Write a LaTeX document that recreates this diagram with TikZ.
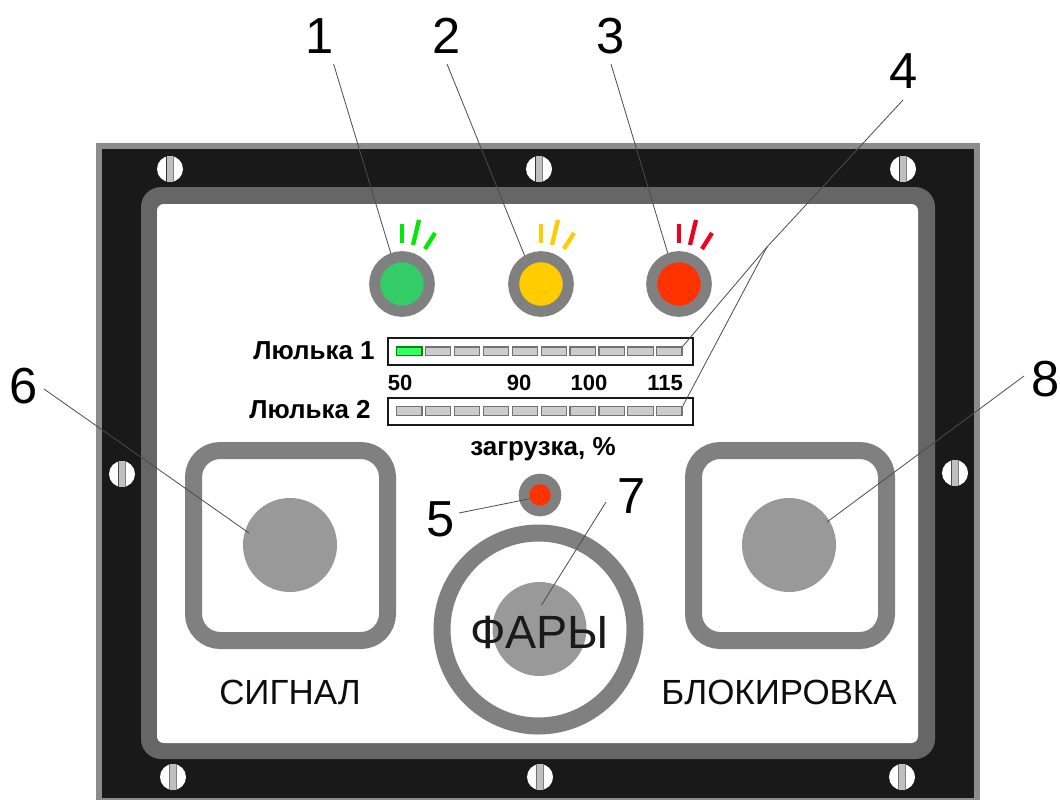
\documentclass[tikz,border=0pt]{standalone}
\usepackage{fontspec}
\setmainfont{Liberation Sans}
\newcommand{\fs}[1]{\fontsize{#1}{#1}\selectfont}
\definecolor{ledgreen}{RGB}{51,204,102}
\definecolor{ledyellow}{RGB}{255,204,0}
\definecolor{ledred}{RGB}{255,51,0}
\definecolor{raygreen}{RGB}{0,235,0}
\definecolor{rayred}{RGB}{240,0,30}
\definecolor{seggreen}{RGB}{51,255,102}
\begin{document}
\begin{tikzpicture}[x=0.75pt,y=-0.75pt,
  callout/.style={inner sep=0pt,minimum width=30pt,minimum height=40pt,font=\fs{38}},
  leader/.style={draw=black!70,line width=0.6pt},
  ledbody/.style={circle,inner sep=0pt,draw=black!50,fill=#1,line width=8.25pt,minimum size=41pt},
  ray/.style={line width=3.2pt,draw=#1},
  seg/.style={draw=black!55,fill=black!20,line width=0.9pt,minimum width=19pt,minimum height=6.2pt,inner sep=0pt},
  barbox/.style={draw=black!90,fill=white,line width=1.2pt,minimum width=228.75pt,minimum height=20.25pt,inner sep=0pt},
  boldlabel/.style={font=\bfseries\fs{19.5},inner sep=0pt},
  scalelabel/.style={font=\bfseries\fs{16.5},inner sep=0pt},
  paneltext/.style={font=\fs{26.2},inner sep=0pt,text=black!95},
  btnframe/.style={draw=black!50,line width=12.75pt,rounded corners=20pt},
  btn/.style={circle,fill=black!40,inner sep=0pt,minimum size=70.5pt},
  screwhead/.style={circle,fill=white,inner sep=0pt,minimum size=19.5pt}]
\useasboundingbox (0,0) rectangle (1060,800);
\fill[white] (0,0) rectangle (1060,800);
% housing
\fill[black!45] (96,143) rectangle (980,800);
\fill[black!90] (102,149) rectangle (974,798);
\fill[black!60,rounded corners=15pt] (141,187) rectangle (935,759);
\fill[white,rounded corners=5pt] (157,204) rectangle (918,743);
% screws
\foreach \n/\x/\y/\e in {a/170/169/80,b/539/169/80,c/903/169/80,d/122/474/70,e/955/473/70,f/173/777/55,g/540/777/55,h/902/777/55}{
  \node[screwhead] (screw\n) at (\x,\y) {};
  \fill[black!25] ([xshift=-2.4pt]screw\n.south) rectangle ([xshift=2.4pt]screw\n.north);
  \draw[black!\e,line width=0.7pt] ([xshift=-2.4pt]screw\n.south) -- ([xshift=-2.4pt]screw\n.north);
  \draw[black!50,line width=0.5pt] ([xshift=2.4pt]screw\n.south) -- ([xshift=2.4pt]screw\n.north);
}
% LEDs
\node[ledbody=ledgreen] (led1) at (402,284) {};
\node[ledbody=ledyellow] (led2) at (541,284) {};
\node[ledbody=ledred] (led3) at (679,284) {};
\foreach \x/\c in {402/raygreen,541/ledyellow,679/rayred}{
  \draw[ray=\c] (\x,224) -- (\x,243);
  \draw[ray=\c] (\x+17,220) -- (\x+11,245);
  \draw[ray=\c] (\x+33,233) -- (\x+23,249);
}
% bars
\node[barbox] (bar1) at (540.5,351.5) {};
\node[barbox] (bar2) at (540.5,411.5) {};
\foreach \i in {1,...,10}{
  \node[seg] (s\i) at ({409.3+(\i-1)*28.9},351.2) {};
  \node[seg] (t\i) at ({409.3+(\i-1)*28.9},411) {};
}
\node[seg,fill=seggreen,draw=black!45!green] (s1on) at (s1) {};
\node[boldlabel] (lab1) at (314,351) {Люлька 1};
\node[boldlabel] (lab2) at (310,410) {Люлька 2};
\node[scalelabel] (v50) at (400,383) {50};
\node[scalelabel] (v90) at (519,383) {90};
\node[scalelabel] (v100) at (589,383) {100};
\node[scalelabel] (v115) at (665,383) {115};
\node[boldlabel] (load) at (543,449) {загрузка, \%};
% buttons
\draw[btnframe] (193.5,450.5) rectangle (387.5,640.5);
\draw[btnframe] (693.5,450.5) rectangle (886.5,640.5);
\node[btn] (b6) at (290,545) {};
\node[btn] (b8) at (789,545) {};
\node[circle,fill=black!50,inner sep=0pt,minimum size=32pt] (small) at (540,495) {};
\node[circle,fill=ledred,inner sep=0pt,minimum size=16.2pt] (smallin) at (540,495) {};
\node[circle,draw=black!50,line width=12.75pt,inner sep=0pt,minimum size=144.75pt] (ring) at (538.5,629.5) {};
\node[btn] (b7) at (539.5,629) {};
\node[font=\fs{35},inner sep=0pt,text=black!90] (far) at (540,632) {ФАРЫ};
\node[paneltext] (sig) at (290,692) {СИГНАЛ};
\node[paneltext] (blk) at (779,692) {БЛОКИРОВКА};
% callouts
\node[callout] (n1) at (320,36) {1};
\node[callout] (n2) at (447,36) {2};
\node[callout] (n3) at (611,36) {3};
\node[callout] (n4) at (904,71) {4};
\node[callout] (n5) at (441,519) {5};
\node[callout] (n6) at (24,386) {6};
\node[callout] (n7) at (632,496) {7};
\node[callout] (n8) at (1046,379) {8};
\coordinate (j4) at (767,247);
\draw[leader] ([xshift=10.2pt,yshift=-21pt]n1.center) -- (led1.110);
\draw[leader] ([yshift=-21pt]n2.center) -- (led2.120);
\draw[leader] ([yshift=-21pt]n3.center) -- (led3.110);
\draw[leader] ([xshift=-0.75pt,yshift=-21.75pt]n4.center) -- (j4);
\draw[leader] (j4) -- (s10.north east);
\draw[leader] (j4) -- (t10.north east);
\draw[leader] ([xshift=13.5pt,yshift=4.5pt]n5.center) -- (smallin.200);
\draw[leader] ([xshift=15pt,yshift=-2.25pt]n6.center) -- ([xshift=-30.75pt,yshift=9pt]b6.center);
\draw[leader] ([xshift=-19.5pt,yshift=-4.5pt]n7.center) -- ([xshift=1.5pt,yshift=18pt]b7.center);
\draw[leader] ([xshift=-16.5pt,yshift=2.25pt]n8.center) -- ([xshift=28.5pt,yshift=17.25pt]b8.center);
\end{tikzpicture}
\end{document}
